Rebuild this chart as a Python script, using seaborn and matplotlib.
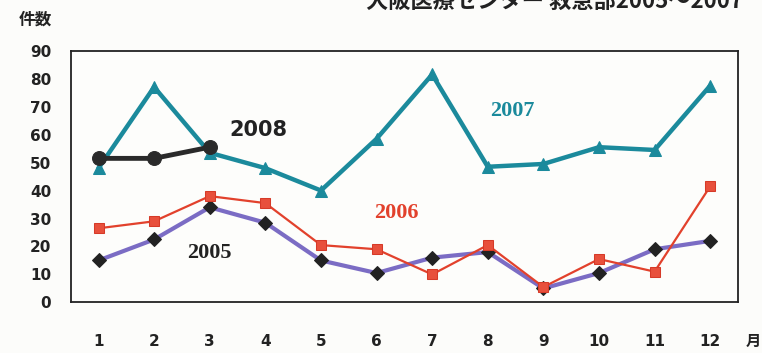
import matplotlib
matplotlib.use("Agg")
import matplotlib.pyplot as plt
import seaborn as sns
import pandas as pd

months = list(range(1, 13))
month_labels = [str(m) for m in months]
y2005 = [15, 22.5, 34, 28.5, 15, 10.5, 16, 18, 5, 10.5, 19, 22]
y2006 = [26.5, 29, 38, 35.5, 20.5, 19, 10, 20.5, 5.5, 15.5, 11, 41.5]
y2007 = [48, 77, 53.5, 48, 40, 58.5, 81.5, 48.5, 49.5, 55.5, 54.5, 77.5]
months_2008 = [1, 2, 3]
y2008 = [51.5, 51.5, 55.5]
yticks = list(range(0, 91, 10))

sns.set_theme(style="white")
plt.rcParams['font.family'] = ['DejaVu Sans', 'Noto Sans CJK JP']

fig = plt.figure(figsize=(7.62, 3.53), dpi=100, facecolor="#fcfcfa")
ax = fig.add_axes([0.0928, 0.1433, 0.8757, 0.7131])
ax.set_facecolor("#fdfdfb")

teal = "#1b8a9c"
red = "#e2412c"
purple = "#7b6cc4"

sns.lineplot(x=months, y=y2005, ax=ax, color=purple, lw=3, marker="D",
             markersize=7, markerfacecolor="#222222", markeredgecolor="#222222")
sns.lineplot(x=months, y=y2006, ax=ax, color=red, lw=1.6, marker="s",
             markersize=7, markerfacecolor="#e8503c", markeredgecolor="#d63a28")
sns.lineplot(x=months, y=y2007, ax=ax, color=teal, lw=3.2, marker="^",
             markersize=9, markerfacecolor=teal, markeredgecolor=teal)
sns.lineplot(x=months_2008, y=y2008, ax=ax, color="#2a2a2a", lw=3.5, marker="o",
             markersize=10, markerfacecolor="#2a2a2a", markeredgecolor="#2a2a2a")

ax.set_xlim(0.5, 12.5)
ax.set_ylim(0, 90)
ax.set_yticks(yticks)
ax.set_yticklabels([str(t) for t in yticks], fontsize=11, fontweight="bold", color="#222222")
ax.set_xticks([m + 0.5 for m in months[:-1]], minor=False)
ax.set_xticklabels([])
ax.tick_params(axis="both", direction="in", length=5, width=1, color="#222222")
ax.tick_params(axis="y", pad=14)
ax.set_xlabel("")
ax.set_ylabel("")
for s in ax.spines.values():
    s.set_color("#222222")
    s.set_linewidth(1.3)

for m, lab in zip(months, month_labels):
    ax.annotate(lab, xy=(m, 0), xycoords="data", xytext=(0, -28),
                textcoords="offset points", ha="center", va="center",
                fontsize=11, fontweight="bold", color="#222222")

ax.text(3.87, 61.5, "2008", fontsize=15, fontweight="bold", color="#222222",
        family="DejaVu Sans", ha="center", va="center")
ax.text(8.44, 68.5, "2007", fontsize=16, color=teal, family="Liberation Serif",
        fontweight="bold", ha="center", va="center")
ax.text(6.35, 31.8, "2006", fontsize=16, color=red, family="Liberation Serif",
        fontweight="bold", ha="center", va="center")
ax.text(3.0, 17.8, "2005", fontsize=16, color="#222222", family="Liberation Serif",
        fontweight="bold", ha="center", va="center")

fig.text(0.046, 0.945, "件数", fontsize=12, fontweight="bold", color="#222222",
         family=["Noto Sans CJK JP"], ha="center", va="center")
fig.text(0.988, 0.035, "月", fontsize=11, fontweight="bold", color="#222222",
         family=["Noto Sans CJK JP"], ha="center", va="center")
fig.text(0.975, 0.975, "大阪医療センター 救急部2005～2007", fontsize=16,
         fontweight="bold", color="#222222",
         family=["Noto Sans CJK JP", "DejaVu Sans"], ha="right", va="baseline")

fig.savefig("out.png", dpi=100, facecolor=fig.get_facecolor())
